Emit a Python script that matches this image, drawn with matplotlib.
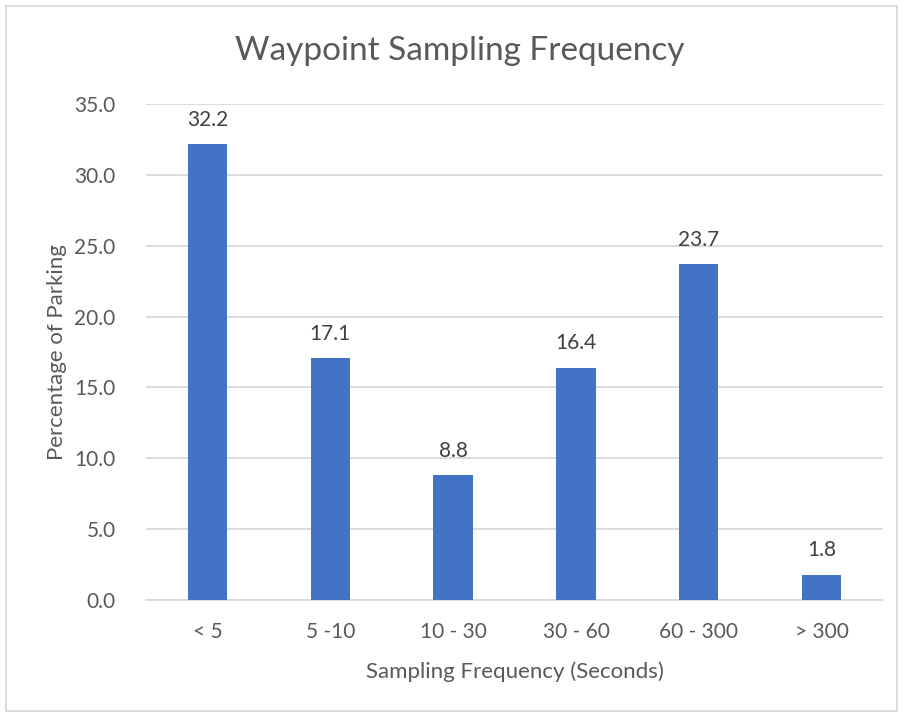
import matplotlib.pyplot as plt
from matplotlib.patches import Rectangle

categories = ["< 5", "5 -10", "10 - 30", "30 - 60", "60 - 300", "> 300"]
values = [32.2, 17.1, 8.8, 16.4, 23.7, 1.8]
yticks = [0, 5, 10, 15, 20, 25, 30, 35]

plt.rcParams["font.family"] = ["Lato", "DejaVu Sans"]
text_color = "#595959"

fig = plt.figure(figsize=(9.02, 7.15), dpi=100)
ax = fig.add_axes([0.1619, 0.1608, 0.8171, 0.6937])

x = range(len(categories))
bars = ax.bar(x, values, width=0.32, color="#4472C4", zorder=3)
for b, v in zip(bars, values):
    ax.text(b.get_x() + b.get_width() / 2, v + 1.0, f"{v:.1f}",
            ha="center", va="bottom", fontsize=15, color="#404040")

ax.set_xlim(-0.5, len(categories) - 0.5)
ax.set_ylim(0, 35)
ax.set_yticks(yticks)
ax.set_yticklabels([f"{t:.1f}" for t in yticks])
ax.set_xticks(list(x))
ax.set_xticklabels(categories)
ax.tick_params(length=0, labelsize=15, labelcolor=text_color)
ax.tick_params(axis="x", pad=16)
ax.tick_params(axis="y", pad=22)
ax.yaxis.grid(True, color="#D9D9D9", linewidth=1.3, zorder=0)
for s in ["top", "right", "left"]:
    ax.spines[s].set_visible(False)
ax.spines["bottom"].set_color("#D9D9D9")
ax.spines["bottom"].set_linewidth(1.3)

ax.set_xlabel("Sampling Frequency (Seconds)", fontsize=16, color=text_color, labelpad=14)
ax.set_ylabel("Percentage of Parking", fontsize=16, color=text_color, labelpad=5)
fig.text(0.51, 0.929, "Waypoint Sampling Frequency", ha="center", va="center",
         fontsize=24, color=text_color)

fig.patches.append(Rectangle((0.007, 0.005), 0.987, 0.987, transform=fig.transFigure,
                             fill=False, edgecolor="#D9D9D9", linewidth=1.3))

fig.savefig("out.png", dpi=100)
